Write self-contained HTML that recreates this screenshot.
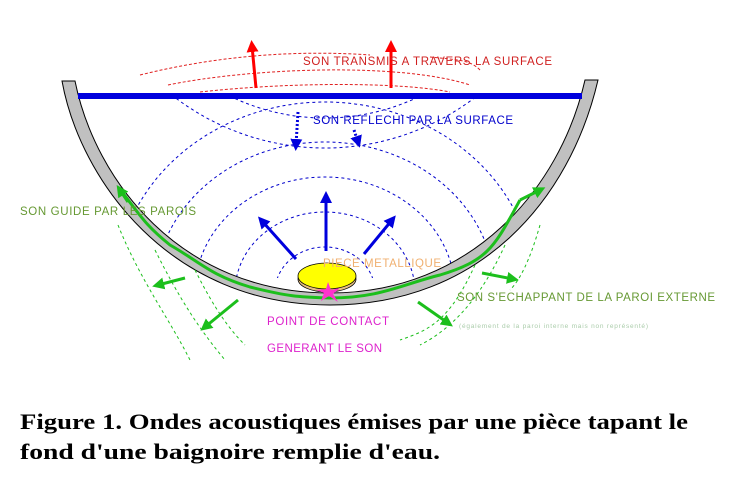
<!DOCTYPE html><html><head><style>body{margin:0;background:#fff}svg{display:block}</style></head><body>
<svg width="742" height="491" xmlns="http://www.w3.org/2000/svg" font-family="Liberation Sans, sans-serif">
<defs>
<marker id="ar" markerWidth="4" markerHeight="4" refX="2" refY="2" orient="auto" markerUnits="strokeWidth"><path d="M0,0L4,2L0,4z" fill="red"/></marker>
<marker id="ab" markerWidth="4" markerHeight="4" refX="2" refY="2" orient="auto" markerUnits="strokeWidth"><path d="M0,0L4,2L0,4z" fill="#0000dd"/></marker>
<marker id="ag" markerWidth="4" markerHeight="4" refX="2" refY="2" orient="auto" markerUnits="strokeWidth"><path d="M0,0L4,2L0,4z" fill="#1cbf1c"/></marker>
<clipPath id="tub"><path d="M75,98 L585,98 C560,190 470,293 330,293 C180,293 95,180 75,98z"/></clipPath>
<clipPath id="upper"><rect x="0" y="98" width="742" height="180"/></clipPath>
</defs>
<g fill="none" stroke="#e02020" stroke-width="1" stroke-dasharray="3,2">
<path d="M140,75 C220,55 300,50 370,55"/>
<path d="M480,70 C470,60 460,60 430,57"/>
<path d="M168,85 C250,68 400,62 470,85"/>
<path d="M200,92 C290,82 400,82 450,92"/>
</g>
<g clip-path="url(#tub)"><g fill="none" stroke="#0000cc" stroke-width="1" stroke-dasharray="3,3" clip-path="url(#upper)">
<ellipse cx="325" cy="292" rx="50" ry="45"/>
<ellipse cx="325" cy="292" rx="90" ry="80"/>
<ellipse cx="325" cy="292" rx="130" ry="115"/>
<ellipse cx="325" cy="292" rx="170" ry="150"/>
<ellipse cx="325" cy="292" rx="210" ry="190"/>
<circle cx="325" cy="-100" r="218"/>
<circle cx="325" cy="-100" r="248"/>
</g></g>
<path d="M62,81 C80,180 170,305 330,305 C480,305 570,200 598,80 L585,80 C560,190 470,293 330,293 C180,293 95,180 75,81z" fill="#c0c0c0" stroke="#000" stroke-width="1"/>
<line x1="78" y1="96" x2="582" y2="96" stroke="#0000dd" stroke-width="6"/>
<line x1="256" y1="88" x2="252" y2="46" stroke="red" stroke-width="3" marker-end="url(#ar)"/>
<line x1="391" y1="88" x2="391" y2="46" stroke="red" stroke-width="3" marker-end="url(#ar)"/>
<g fill="none" stroke="#1cbf1c" stroke-width="1" stroke-dasharray="3,3">
<path d="M118,225 C140,280 170,320 190,360"/>
<path d="M155,250 C180,300 200,330 225,360"/>
<path d="M195,270 C215,310 230,330 245,345"/>
<path d="M540,225 C530,260 520,280 510,290"/>
<path d="M505,245 C480,300 450,330 420,345"/>
<path d="M475,265 C450,320 430,330 400,340"/>
</g>
<path d="M122,192 C140,215 145,225 170,245 C200,262 210,275 250,287 C290,297 300,297 330,298 C380,298 400,285 440,275 C490,260 495,245 520,200" fill="none" stroke="#1cbf1c" stroke-width="3"/>
<line x1="128" y1="202" x2="120" y2="190" stroke="#1cbf1c" stroke-width="3" marker-end="url(#ag)"/>
<line x1="520" y1="200" x2="540" y2="190" stroke="#1cbf1c" stroke-width="3" marker-end="url(#ag)"/>
<line x1="185" y1="278" x2="158" y2="285" stroke="#1cbf1c" stroke-width="3" marker-end="url(#ag)"/>
<line x1="238" y1="300" x2="205" y2="327" stroke="#1cbf1c" stroke-width="3" marker-end="url(#ag)"/>
<line x1="482" y1="273" x2="513" y2="279" stroke="#1cbf1c" stroke-width="3" marker-end="url(#ag)"/>
<line x1="418" y1="302" x2="448" y2="323" stroke="#1cbf1c" stroke-width="3" marker-end="url(#ag)"/>
<line x1="296" y1="259" x2="262" y2="221" stroke="#0000dd" stroke-width="3" marker-end="url(#ab)"/>
<line x1="326" y1="251" x2="326" y2="197" stroke="#0000dd" stroke-width="3" marker-end="url(#ab)"/>
<line x1="364" y1="254" x2="392" y2="220" stroke="#0000dd" stroke-width="3" marker-end="url(#ab)"/>
<line x1="298" y1="112" x2="296" y2="145" stroke="#0000dd" stroke-width="3" stroke-dasharray="2,2" marker-end="url(#ab)"/>
<line x1="354" y1="130" x2="358" y2="142" stroke="#0000dd" stroke-width="3" stroke-dasharray="2,2" marker-end="url(#ab)"/>
<ellipse cx="327" cy="279" rx="29" ry="13" fill="#e8c080" stroke="#000" stroke-width="0.8"/>
<ellipse cx="327" cy="276" rx="29" ry="13" fill="#ffff00" stroke="#000" stroke-width="0.8"/>
<path d="M328,282 L331,290 L340,288 L333,294 L338,302 L329,296 L321,301 L324,293 L316,290 L326,289z" fill="#ff33cc"/>
<g font-size="11.5" lengthAdjust="spacingAndGlyphs">
<text x="303" y="65" fill="#d02020" textLength="249">SON TRANSMIS A TRAVERS LA SURFACE</text>
<text x="313" y="124" fill="#0000cc" textLength="200">SON REFLECHI PAR LA SURFACE</text>
<text x="20" y="215" fill="#669933" textLength="176">SON GUIDE PAR LES PAROIS</text>
<text x="323" y="267" fill="#f0b070" textLength="118">PIECE METALLIQUE</text>
<text x="457" y="301" fill="#669933" textLength="258">SON S'ECHAPPANT DE LA PAROI EXTERNE</text>
<text x="267" y="325" fill="#dd22cc" textLength="122">POINT DE CONTACT</text>
<text x="267" y="352" fill="#dd22cc" textLength="115">GENERANT LE SON</text>
</g>
<text x="459" y="328" font-size="6.5" fill="#aaccaa" textLength="189">(également de la paroi interne mais non représenté)</text>
<g font-family="Liberation Serif, serif" font-weight="bold" font-size="22">
<text x="20" y="429" textLength="668" lengthAdjust="spacingAndGlyphs">Figure 1. Ondes acoustiques émises par une pièce tapant le</text>
<text x="20" y="459" textLength="420" lengthAdjust="spacingAndGlyphs">fond d'une baignoire remplie d'eau.</text>
</g>
</svg>
</body></html>
